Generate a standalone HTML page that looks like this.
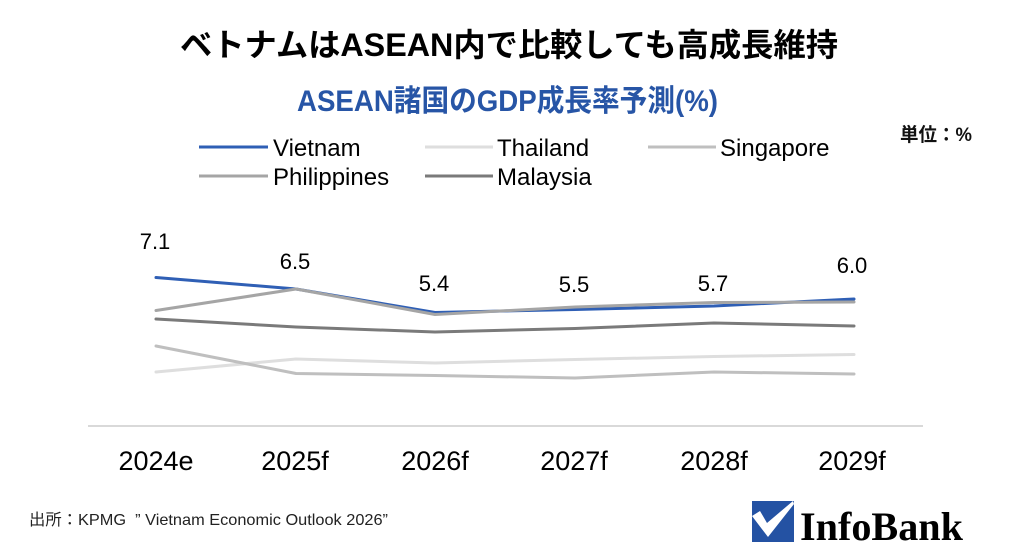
<!DOCTYPE html>
<html><head><meta charset="utf-8"><style>
html,body{margin:0;padding:0;background:#fff;}
svg{display:block}
text{font-family:"Liberation Sans","Noto Sans CJK JP",sans-serif;}
</style></head><body>
<svg width="1024" height="557" viewBox="0 0 1024 557" xmlns="http://www.w3.org/2000/svg">
<rect width="1024" height="557" fill="#fff"/>
<!-- titles -->
<text x="180" y="56" font-size="32" font-weight="bold" fill="#000" textLength="658" lengthAdjust="spacingAndGlyphs">ベトナムはASEAN内で比較しても高成長維持</text>
<text x="297" y="111" font-size="30" font-weight="bold" fill="#2755a6" textLength="421" lengthAdjust="spacingAndGlyphs">ASEAN諸国のGDP成長率予測(%)</text>
<text x="900" y="141" font-size="19" font-weight="bold" fill="#111" textLength="72" lengthAdjust="spacingAndGlyphs">単位：%</text>

<!-- legend -->
<g stroke-width="3" stroke-linecap="butt">
<line x1="199" y1="147" x2="268" y2="147" stroke="#2f5fb5"/>
<line x1="425" y1="147" x2="493" y2="147" stroke="#dedede"/>
<line x1="648" y1="147" x2="716" y2="147" stroke="#bfbfbf"/>
<line x1="199" y1="176" x2="268" y2="176" stroke="#a5a5a5"/>
<line x1="425" y1="176" x2="493" y2="176" stroke="#7a7a7a"/>
</g>
<g font-size="24" fill="#000">
<text x="273" y="156">Vietnam</text>
<text x="497" y="156">Thailand</text>
<text x="720" y="156">Singapore</text>
<text x="273" y="185">Philippines</text>
<text x="497" y="185">Malaysia</text>
</g>

<!-- baseline -->
<line x1="88" y1="426" x2="923" y2="426" stroke="#d9d9d9" stroke-width="2"/>

<!-- series -->
<g fill="none" stroke-width="3" stroke-linejoin="round" stroke-linecap="round">
<polyline stroke="#2f5fb5" points="156,277.5 296,289 435,312.5 575,309.5 714,306 854,299"/>
<polyline stroke="#dedede" points="156,372 296,359 435,363 575,359.5 714,356.5 854,354.5"/>
<polyline stroke="#bfbfbf" points="156,346 296,373.5 435,375.5 575,378 714,372 854,374"/>
<polyline stroke="#a5a5a5" points="156,310.5 296,289 435,314.5 575,307 714,302.5 854,302"/>
<polyline stroke="#7a7a7a" points="156,319 296,327 435,332 575,328.5 714,323 854,326"/>
</g>

<!-- data labels -->
<g font-size="22" fill="#000" text-anchor="middle">
<text x="155" y="249">7.1</text>
<text x="295" y="269">6.5</text>
<text x="434" y="291">5.4</text>
<text x="574" y="292">5.5</text>
<text x="713" y="291">5.7</text>
<text x="852" y="273">6.0</text>
</g>

<!-- categories -->
<g font-size="27" fill="#000" text-anchor="middle">
<text x="156" y="470">2024e</text>
<text x="295" y="470">2025f</text>
<text x="435" y="470">2026f</text>
<text x="574" y="470">2027f</text>
<text x="714" y="470">2028f</text>
<text x="852" y="470">2029f</text>
</g>

<!-- source -->
<text x="29" y="525" font-size="16" fill="#222" style="white-space:pre" textLength="359" lengthAdjust="spacingAndGlyphs">出所：KPMG  ” Vietnam Economic Outlook 2026”</text>

<!-- logo -->
<rect x="752" y="501" width="42" height="41" fill="#2452a3"/>
<polygon points="752,516 760,511 767,523 793,501 794,504 768,537" fill="#fff"/>
<text x="800" y="540" font-size="40" font-weight="bold" fill="#000" style="font-family:'Liberation Serif',serif" textLength="163" lengthAdjust="spacingAndGlyphs">InfoBank</text>
</svg>
</body></html>
